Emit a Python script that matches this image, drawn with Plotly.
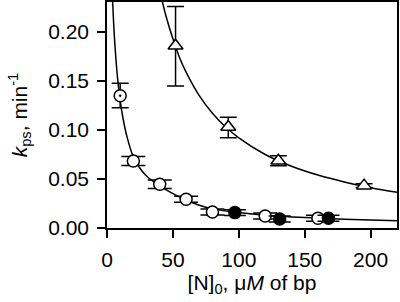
import plotly.graph_objects as go

# open circles
oc_x = [20, 40, 60, 80, 120, 160]
oc_y = [0.0684, 0.0446, 0.0293, 0.0163, 0.0122, 0.0099]
oc_err = [0.0046, 0.0043, 0.003, 0.003, 0.003, 0.003]

# filled circles
fc_x = [97, 131, 168]
fc_y = [0.0157, 0.0092, 0.0099]
fc_err = [0.003, 0.003, 0.003]

# dotted circle
dc_x = [10]
dc_y = [0.135]
dc_err_plus = [0.0126]
dc_err_minus = [0.0122]

# triangles
tr_x = [52, 92, 130, 195]
tr_y = [0.186, 0.103, 0.0686, 0.0432]
tr_err_plus = [0.040, 0.010, 0.005, 0.002]
tr_err_minus = [0.041, 0.011, 0.005, 0.002]

# fitted curves
low_cx = [4.2, 5, 6, 8, 10, 12, 15, 20, 25, 30, 40, 50, 60, 70, 80, 100, 120, 150, 180, 220]
low_cy = [0.233, 0.210, 0.187, 0.153, 0.130, 0.113, 0.094, 0.0725, 0.061, 0.053, 0.043, 0.035, 0.0285,
          0.0232, 0.0195, 0.0157, 0.0130, 0.0106, 0.0090, 0.0075]
up_cx = [42, 45, 50, 55, 60, 70, 80, 90, 100, 120, 140, 160, 180, 200, 220]
up_cy = [0.231, 0.215, 0.193, 0.174, 0.159, 0.135, 0.117, 0.103, 0.092, 0.075, 0.063, 0.054, 0.047,
         0.041, 0.0364]

font = "Liberation Sans, Arial, sans-serif"
fig = go.Figure()
fig.add_trace(go.Scatter(x=low_cx, y=low_cy, mode="lines", line=dict(color="black", width=1.5, shape="spline"),
                         showlegend=False, hoverinfo="skip"))
fig.add_trace(go.Scatter(x=up_cx, y=up_cy, mode="lines", line=dict(color="black", width=1.5, shape="spline"),
                         showlegend=False, hoverinfo="skip"))

fig.add_trace(go.Scatter(x=tr_x, y=tr_y, mode="markers",
                         marker=dict(symbol="triangle-up", size=13, color="white", line=dict(color="black", width=1.5)),
                         error_y=dict(type="data", array=tr_err_plus, arrayminus=tr_err_minus, symmetric=False,
                                      color="black", thickness=1.5, width=8.5), showlegend=False))
fig.add_trace(go.Scatter(x=dc_x, y=dc_y, mode="markers",
                         marker=dict(symbol="circle-dot", size=12, color="white", line=dict(color="black", width=1.5)),
                         error_y=dict(type="data", array=dc_err_plus, arrayminus=dc_err_minus, symmetric=False,
                                      color="black", thickness=1.5, width=8.5), showlegend=False))
fig.add_trace(go.Scatter(x=oc_x, y=oc_y, mode="markers",
                         marker=dict(symbol="circle", size=12, color="white", line=dict(color="black", width=1.5)),
                         error_y=dict(type="data", array=oc_err, color="black", thickness=1.5, width=12),
                         showlegend=False))
fig.add_trace(go.Scatter(x=fc_x, y=fc_y, mode="markers",
                         marker=dict(symbol="circle", size=12, color="black", line=dict(color="black", width=1.5)),
                         error_y=dict(type="data", array=fc_err, color="black", thickness=1.5, width=11),
                         showlegend=False))

fig.update_layout(
    width=400, height=302,
    margin=dict(l=107, r=3, t=2, b=74),
    paper_bgcolor="white", plot_bgcolor="white",
    font=dict(family=font, size=21, color="black"),
    xaxis=dict(range=[0, 220], tickvals=[0, 50, 100, 150, 200], showline=True, linecolor="black", linewidth=1.5,
               mirror=True, ticks="outside", ticklen=8, tickwidth=1.5, tickcolor="black", showgrid=False,
               zeroline=False, ticklabelstandoff=4, automargin=False,
               title=dict(text="[N]<sub>0</sub>, μ<i>M</i> of bp", font=dict(size=21), standoff=5)),
    yaxis=dict(range=[0, 0.2306], tickvals=[0, 0.05, 0.10, 0.15, 0.20], tickformat=".2f", showline=True,
               linecolor="black", linewidth=1.5, mirror=True, ticks="outside", ticklen=8, tickwidth=1.5,
               tickcolor="black", showgrid=False, zeroline=False, ticklabelstandoff=4, automargin=False,
               title=dict(text="<i>k</i><sub>ps</sub>, min<sup>-1</sup>", font=dict(size=21), standoff=15)),
)
fig.write_html("out.html", config={"displayModeBar": False},
               post_script="document.body.style.margin='0px';document.body.style.overflow='hidden';")
